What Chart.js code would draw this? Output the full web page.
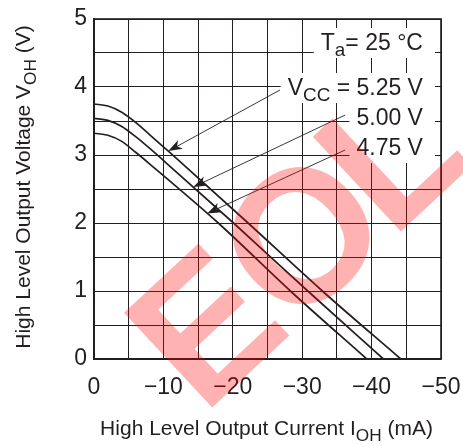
<!DOCTYPE html>
<html lang="en">
<head>
<meta charset="UTF-8">
<title>High Level Output Voltage vs High Level Output Current</title>
<script src="https://cdn.jsdelivr.net/npm/chart.js"></script>
<style>
  body { margin: 0; background: #fff; }
  #wrap { width: 463px; height: 446px; }
</style>
</head>
<body>
<div id="wrap"><canvas id="myChart"></canvas></div>
<script>
// I_OH (mA) and V_OH (V), one pair of arrays per V_CC
var ioh525 = [0, -2, -4, -6, -8, -10, -12, -22.2, -32.9, -44.2];
var voh525 = [3.75, 3.72, 3.63, 3.48, 3.30, 3.12, 2.94, 2.0, 1.0, 0];
var ioh500 = [0, -2, -4, -6, -8, -10, -20.1, -30.8, -41.7];
var voh500 = [3.54, 3.51, 3.42, 3.27, 3.10, 2.92, 2.0, 1.0, 0];
var ioh475 = [0, -2, -4, -6, -8, -17.9, -28.3, -39.3];
var voh475 = [3.32, 3.29, 3.20, 3.04, 2.87, 2.0, 1.0, 0];

var xTicks = [0, -10, -20, -30, -40, -50];
var yTicks = [0, 1, 2, 3, 4, 5];

// where each arrow hits its curve (mA)
var arrowAt = [-10.7, -14.3, -16.3];

var FONT = '"Liberation Sans", Arial, sans-serif';
var INK = '#231f20';

function pts(xs, ys) {
    var out = [];
    for (var i = 0; i < xs.length; i++) out.push({ x: xs[i], y: ys[i] });
    return out;
}
function vAt(xs, ys, x) {
    for (var i = 0; i < xs.length - 1; i++) {
        if (x <= xs[i] && x >= xs[i + 1]) {
            var t = (x - xs[i]) / (xs[i + 1] - xs[i]);
            return ys[i] + t * (ys[i + 1] - ys[i]);
        }
    }
    return ys[ys.length - 1];
}
function minus(v) {
    return v === 0 ? '0' : '\u2212' + Math.abs(v);
}

// draws text with subscript parts
function drawRich(ctx, parts, x, base, size, align) {
    var w = 0;
    parts.forEach(function (p) {
        ctx.font = (p.sub ? size * 0.82 : size) + 'px ' + FONT;
        p.w = ctx.measureText(p.t).width;
        w += p.w;
    });
    var cx = align === 'center' ? x - w / 2 : x - w;
    parts.forEach(function (p) {
        ctx.font = (p.sub ? size * 0.82 : size) + 'px ' + FONT;
        ctx.fillText(p.t, cx, base + (p.sub ? size * 0.27 : 0));
        cx += p.w;
    });
}

function arrow(ctx, x1, y1, x2, y2) {
    var a = Math.atan2(y2 - y1, x2 - x1);
    ctx.beginPath();
    ctx.moveTo(x1, y1);
    ctx.lineTo(x2 - 8 * Math.cos(a), y2 - 8 * Math.sin(a));
    ctx.lineWidth = 0.9;
    ctx.stroke();
    ctx.save();
    ctx.translate(x2, y2);
    ctx.rotate(a);
    ctx.beginPath();
    ctx.moveTo(0, 0);
    ctx.lineTo(-14, -5);
    ctx.lineTo(-10, 0);
    ctx.lineTo(-14, 5);
    ctx.closePath();
    ctx.fill();
    ctx.restore();
}

var notes = {
    id: 'notes',
    beforeDatasetsDraw: function (chart) {
        var ctx = chart.ctx, a = chart.chartArea;
        ctx.save();
        ctx.strokeStyle = INK;
        ctx.lineWidth = 1.6;
        ctx.strokeRect(a.left, a.top, a.right - a.left, a.bottom - a.top);
        ctx.restore();
    },
    afterDatasetsDraw: function (chart) {
        var ctx = chart.ctx, sx = chart.scales.x, sy = chart.scales.y;
        ctx.save();
        ctx.fillStyle = INK;
        ctx.strokeStyle = INK;
        ctx.textBaseline = 'alphabetic';

        var right = sx.getPixelForValue(-47.4);
        var labels = [
            { v: 4.544, parts: [{ t: 'T' }, { t: 'a', sub: true }, { t: '= 25 \u00b0C' }] },
            { v: 3.882, parts: [{ t: 'V' }, { t: 'CC', sub: true }, { t: ' = 5.25 V' }] },
            { v: 3.441, parts: [{ t: '5.00 V' }] },
            { v: 3.0, parts: [{ t: '4.75 V' }] }
        ];
        // white boxes behind the labels
        labels.forEach(function (l) {
            var w = 0;
            l.parts.forEach(function (p) {
                ctx.font = (p.sub ? 23 * 0.82 : 23) + 'px ' + FONT;
                w += ctx.measureText(p.t).width;
            });
            var base = sy.getPixelForValue(l.v);
            ctx.fillStyle = '#fff';
            ctx.fillRect(right - w - 7, base - 22, w + 19, 30);
        });
        ctx.fillStyle = INK;
        labels.forEach(function (l) {
            drawRich(ctx, l.parts, right, sy.getPixelForValue(l.v), 23, 'right');
        });

        // arrows from labels to curves
        var from = [[-26.8, 3.956], [-36.2, 3.588], [-36.2, 3.074]];
        var curves = [[ioh525, voh525], [ioh500, voh500], [ioh475, voh475]];
        for (var i = 0; i < 3; i++) {
            var tx = arrowAt[i], ty = vAt(curves[i][0], curves[i][1], tx);
            arrow(ctx, sx.getPixelForValue(from[i][0]), sy.getPixelForValue(from[i][1]),
                sx.getPixelForValue(tx), sy.getPixelForValue(ty));
        }

        // axis titles
        drawRich(ctx, [{ t: 'High Level Output Current I' }, { t: 'OH', sub: true }, { t: ' (mA)' }],
            (chart.chartArea.left + chart.chartArea.right) / 2 - 1, 435, 21, 'center');
        ctx.save();
        ctx.translate(30, (chart.chartArea.top + chart.chartArea.bottom) / 2 - 2);
        ctx.rotate(-Math.PI / 2);
        drawRich(ctx, [{ t: 'High Level Output Voltage V' }, { t: 'OH', sub: true }, { t: ' (V)' }],
            0, 0, 21, 'center');
        ctx.restore();
        ctx.restore();
    },
    afterDraw: function (chart) {
        // EOL watermark
        var ctx = chart.ctx;
        ctx.save();
        ctx.translate(203, 416);
        ctx.rotate(-43 * Math.PI / 180);
        ctx.font = 'bold 188px ' + FONT;
        ctx.fillStyle = 'rgba(255, 0, 0, 0.3)';
        ctx.textBaseline = 'alphabetic';
        ctx.fillText('E', 0, 0);
        ctx.fillText('O', 122, 0);
        ctx.fillText('L', 258, 0);
        ctx.restore();
    }
};

function curve(xs, ys) {
    return {
        data: pts(xs, ys),
        borderColor: INK,
        borderWidth: 1.7,
        pointRadius: 0,
        fill: false,
        cubicInterpolationMode: 'monotone'
    };
}

Chart.defaults.font.family = FONT;
Chart.defaults.color = INK;

new Chart(document.getElementById('myChart'), {
    type: 'line',
    data: {
        datasets: [curve(ioh525, voh525), curve(ioh500, voh500), curve(ioh475, voh475)]
    },
    options: {
        responsive: true,
        maintainAspectRatio: false,
        animation: false,
        layout: { padding: { top: 19, right: 22, left: 0, bottom: 0 } },
        plugins: { legend: { display: false }, tooltip: { enabled: false } },
        scales: {
            x: {
                type: 'linear',
                min: -50,
                max: 0,
                reverse: true,
                afterFit: function (s) {
                    s.height = 87;
                    s.paddingLeft = 0;
                    s.paddingRight = 0;
                },
                grid: { color: INK, lineWidth: 1, drawTicks: false },
                border: { color: INK, width: 1.6 },
                ticks: {
                    stepSize: 5,
                    autoSkip: false,
                    maxRotation: 0,
                    padding: 15,
                    font: { size: 23 },
                    callback: function (v) { return xTicks.indexOf(v) >= 0 ? minus(v) : ''; }
                }
            },
            y: {
                min: 0,
                max: 5,
                afterFit: function (s) {
                    s.width = 94;
                    s.paddingTop = 0;
                    s.paddingBottom = 0;
                },
                grid: { color: INK, lineWidth: 1, drawTicks: false },
                border: { color: INK, width: 1.6 },
                ticks: {
                    stepSize: 0.5,
                    autoSkip: false,
                    padding: 7,
                    font: { size: 23 },
                    callback: function (v) { return yTicks.indexOf(v) >= 0 ? String(v) : ''; }
                }
            }
        }
    },
    plugins: [notes]
});
</script>
</body>
</html>
